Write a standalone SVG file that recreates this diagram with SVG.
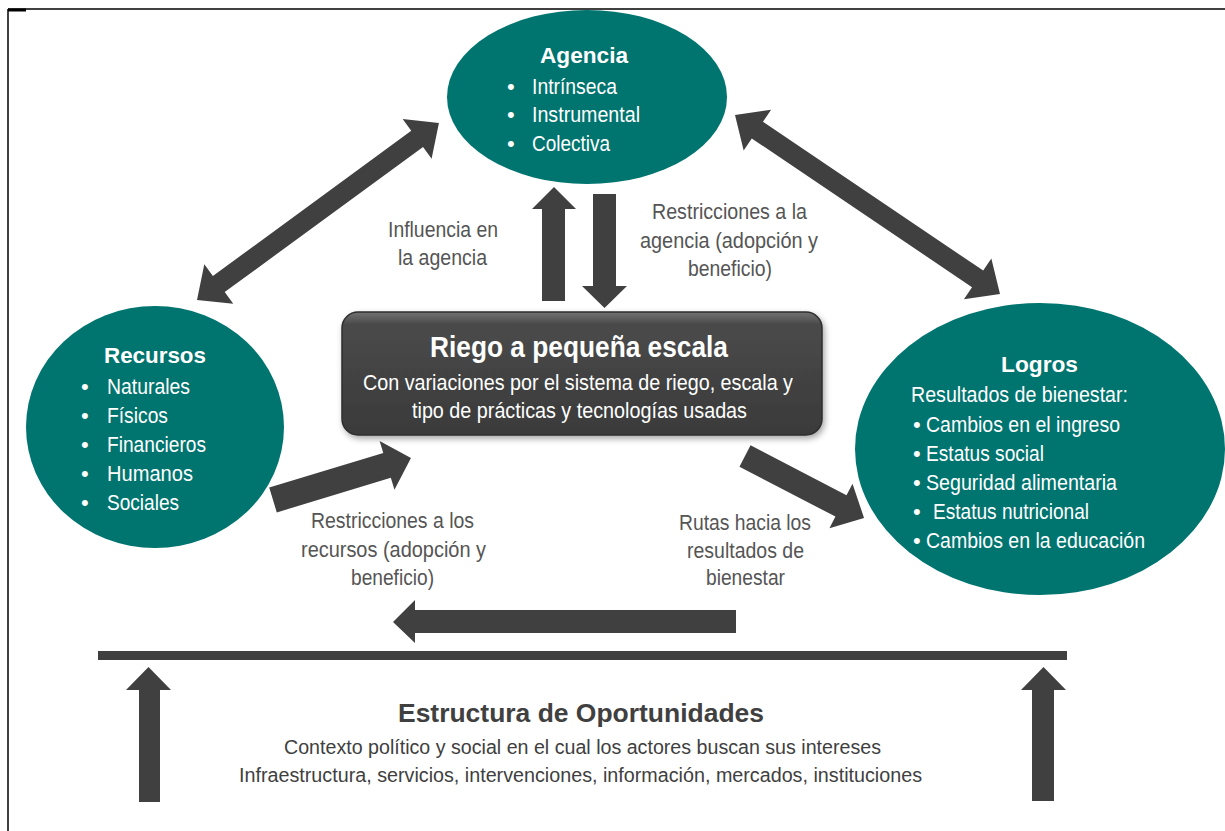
<svg xmlns="http://www.w3.org/2000/svg" width="1225" height="831" viewBox="0 0 1225 831">
  <defs>
    <style>
      .teal { fill: #00746f; }
      .arr { fill: #404040; }
      .ttl { font-family: "Liberation Sans Narrow", "Liberation Sans", Arial, sans-serif; font-weight: bold; fill: #ffffff; font-size: 22px; }
      .itm { font-family: "Liberation Sans Narrow", "Liberation Sans", Arial, sans-serif; fill: #ffffff; font-size: 22px; }
      .lbl { font-family: "Liberation Sans Narrow", "Liberation Sans", Arial, sans-serif; fill: #555555; font-size: 22px; }
      .bt { font-family: "Liberation Sans Narrow", "Liberation Sans", Arial, sans-serif; fill: #404040; }
    </style>
    <linearGradient id="boxg" x1="0" y1="0" x2="0" y2="1">
      <stop offset="0" stop-color="#727272"/>
      <stop offset="0.1" stop-color="#4a4a4a"/>
      <stop offset="1" stop-color="#3a3a3a"/>
    </linearGradient>
    <filter id="shadow" x="-10%" y="-20%" width="120%" height="150%">
      <feDropShadow dx="2" dy="3" stdDeviation="3" flood-color="#000000" flood-opacity="0.35"/>
    </filter>
  </defs>

  <rect x="0" y="0" width="1225" height="831" fill="#ffffff"/>

  <!-- frame -->
  <g id="frame" stroke="#000000" fill="none">
    <line x1="8" y1="9" x2="1225" y2="9" stroke-width="1.5"/>
    <line x1="8" y1="9" x2="8" y2="831" stroke-width="1.5"/>
    <line x1="8" y1="10" x2="26" y2="10" stroke-width="3"/>
  </g>

  <!-- connectors -->
  <g id="connectors">
    <polygon class="arr" transform="translate(197,300) rotate(-36.2)" points="0,0 27,-24.5 27,-10 272.8,-10 272.8,-24.5 299.8,0 272.8,24.5 272.8,10 27,10 27,24.5"/>
    <polygon class="arr" transform="translate(735,115) rotate(34.04)" points="0,0 27,-24.5 27,-10 292.8,-10 292.8,-24.5 319.8,0 292.8,24.5 292.8,10 27,10 27,24.5"/>
    <polygon class="arr" points="542,301 542,209 532,209 554,187 576,209 565,209 565,301"/>
    <polygon class="arr" points="593,194 616,194 616,286 627,286 604.5,308 582,286 593,286"/>
    <polygon class="arr" transform="translate(273,500) rotate(-16.9)" points="0,-13 119.2,-13 119.2,-25.5 144.2,0 119.2,25.5 119.2,13 0,13"/>
    <polygon class="arr" transform="translate(745,456) rotate(27.5)" points="0,-12 108.2,-12 108.2,-25 134.2,0 108.2,25 108.2,12 0,12"/>
    <polygon class="arr" points="736,610 415,610 415,600 393,622 415,643 415,633 736,633"/>
    <rect class="arr" x="98" y="651" width="969" height="9"/>
    <polygon class="arr" points="139,802 139,690 126,690 148.5,667 171,690 160,690 160,802"/>
    <polygon class="arr" points="1032,801 1032,690 1021,690 1043.5,667 1066,690 1054,690 1054,801"/>
  </g>

  <!-- Agencia -->
  <g id="agencia">
    <ellipse class="teal" cx="587" cy="97" rx="140" ry="87"/>
    <text class="ttl" x="540" y="63" textLength="88" lengthAdjust="spacingAndGlyphs">Agencia</text>
    <text class="itm" x="507" y="94">•</text>
    <text class="itm" x="507" y="122">•</text>
    <text class="itm" x="507" y="151">•</text>
    <text class="itm" x="532" y="94" textLength="85" lengthAdjust="spacingAndGlyphs">Intrínseca</text>
    <text class="itm" x="532" y="122" textLength="108" lengthAdjust="spacingAndGlyphs">Instrumental</text>
    <text class="itm" x="532" y="151" textLength="78" lengthAdjust="spacingAndGlyphs">Colectiva</text>
  </g>

  <!-- Recursos -->
  <g id="recursos">
    <ellipse class="teal" cx="155" cy="427" rx="129" ry="121"/>
    <text class="ttl" x="104" y="363" textLength="102" lengthAdjust="spacingAndGlyphs">Recursos</text>
    <text class="itm" x="81" y="394">•</text>
    <text class="itm" x="81" y="423">•</text>
    <text class="itm" x="81" y="452">•</text>
    <text class="itm" x="81" y="481">•</text>
    <text class="itm" x="81" y="510">•</text>
    <text class="itm" x="107" y="394" textLength="83" lengthAdjust="spacingAndGlyphs">Naturales</text>
    <text class="itm" x="107" y="423" textLength="61" lengthAdjust="spacingAndGlyphs">Físicos</text>
    <text class="itm" x="107" y="452" textLength="99" lengthAdjust="spacingAndGlyphs">Financieros</text>
    <text class="itm" x="107" y="481" textLength="86" lengthAdjust="spacingAndGlyphs">Humanos</text>
    <text class="itm" x="107" y="510" textLength="72" lengthAdjust="spacingAndGlyphs">Sociales</text>
  </g>

  <!-- Logros -->
  <g id="logros">
    <ellipse class="teal" cx="1040" cy="449" rx="185" ry="146"/>
    <text class="ttl" x="1001" y="372" textLength="77" lengthAdjust="spacingAndGlyphs">Logros</text>
    <text class="itm" x="911" y="402" textLength="217" lengthAdjust="spacingAndGlyphs">Resultados de bienestar:</text>
    <text class="itm" x="913" y="432">•</text>
    <text class="itm" x="913" y="461">•</text>
    <text class="itm" x="913" y="490">•</text>
    <text class="itm" x="913" y="519">•</text>
    <text class="itm" x="913" y="548">•</text>
    <text class="itm" x="926" y="432" textLength="194" lengthAdjust="spacingAndGlyphs">Cambios en el ingreso</text>
    <text class="itm" x="926" y="461" textLength="118" lengthAdjust="spacingAndGlyphs">Estatus social</text>
    <text class="itm" x="926" y="490" textLength="191" lengthAdjust="spacingAndGlyphs">Seguridad alimentaria</text>
    <text class="itm" x="933" y="519" textLength="156" lengthAdjust="spacingAndGlyphs">Estatus nutricional</text>
    <text class="itm" x="926" y="548" textLength="219" lengthAdjust="spacingAndGlyphs">Cambios en la educación</text>
  </g>

  <!-- Riego a pequeña escala -->
  <g id="riego">
    <rect x="342" y="312" width="480" height="123" rx="16" ry="16" fill="url(#boxg)" stroke="#2e2e2e" stroke-width="1.5" filter="url(#shadow)"/>
    <text class="ttl" style="font-size:29px" x="430" y="357" textLength="298" lengthAdjust="spacingAndGlyphs">Riego a pequeña escala</text>
    <text class="itm" x="363" y="390" textLength="430" lengthAdjust="spacingAndGlyphs">Con variaciones por el sistema de riego, escala y</text>
    <text class="itm" x="412" y="418" textLength="335" lengthAdjust="spacingAndGlyphs">tipo de prácticas y tecnologías usadas</text>
  </g>

  <!-- Estructura de Oportunidades -->
  <g id="estructura">
    <text class="bt" style="font-size:26px;font-weight:bold" x="398" y="722" textLength="366" lengthAdjust="spacingAndGlyphs">Estructura de Oportunidades</text>
    <text class="bt" style="font-size:20px" x="284" y="754" textLength="597" lengthAdjust="spacingAndGlyphs">Contexto político y social en el cual los actores buscan sus intereses</text>
    <text class="bt" style="font-size:20px" x="239" y="782" textLength="683" lengthAdjust="spacingAndGlyphs">Infraestructura, servicios, intervenciones, información, mercados, instituciones</text>
  </g>

  <!-- connector labels -->
  <g id="labels">
    <text class="lbl" x="388" y="237" textLength="110" lengthAdjust="spacingAndGlyphs">Influencia en</text>
    <text class="lbl" x="398" y="265" textLength="89" lengthAdjust="spacingAndGlyphs">la agencia</text>
    <text class="lbl" x="652" y="219" textLength="155" lengthAdjust="spacingAndGlyphs">Restricciones a la</text>
    <text class="lbl" x="640" y="248" textLength="178" lengthAdjust="spacingAndGlyphs">agencia (adopción y</text>
    <text class="lbl" x="688" y="276" textLength="84" lengthAdjust="spacingAndGlyphs">beneficio)</text>
    <text class="lbl" x="311" y="528" textLength="163" lengthAdjust="spacingAndGlyphs">Restricciones a los</text>
    <text class="lbl" x="301" y="557" textLength="185" lengthAdjust="spacingAndGlyphs">recursos (adopción y</text>
    <text class="lbl" x="351" y="585" textLength="83" lengthAdjust="spacingAndGlyphs">beneficio)</text>
    <text class="lbl" x="679" y="530" textLength="132" lengthAdjust="spacingAndGlyphs">Rutas hacia los</text>
    <text class="lbl" x="687" y="558" textLength="117" lengthAdjust="spacingAndGlyphs">resultados de</text>
    <text class="lbl" x="706" y="585" textLength="79" lengthAdjust="spacingAndGlyphs">bienestar</text>
  </g>
</svg>
